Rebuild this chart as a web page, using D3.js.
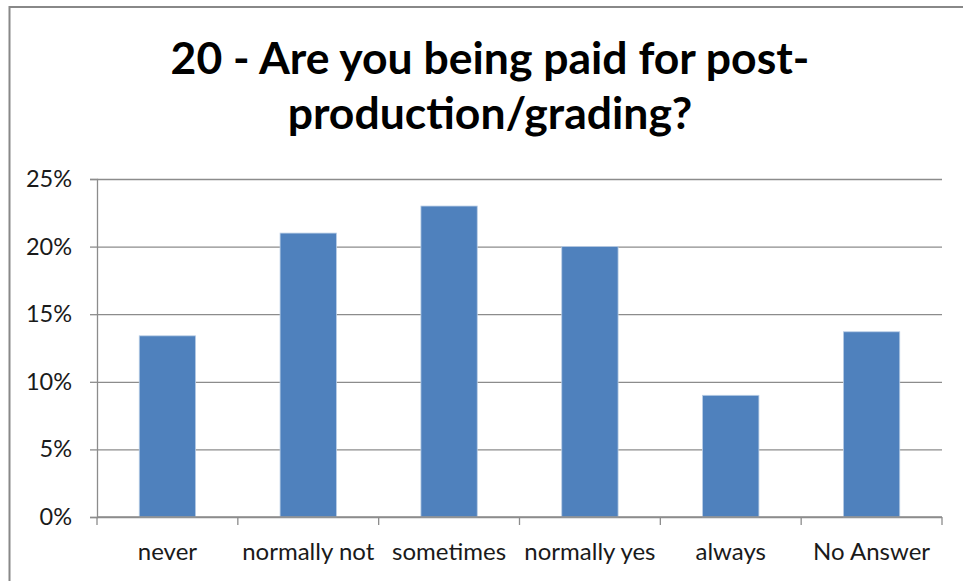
<!DOCTYPE html>
<html>
<head>
<meta charset="utf-8">
<script src="https://cdn.jsdelivr.net/npm/d3@7"></script>
<style>
  body { margin: 0; background: #fff; }
  svg { display: block; font-family: Lato, "Open Sans", sans-serif; }
  .tick text { fill: #1a1a1a; }
</style>
</head>
<body>
<div id="chart"></div>
<script>
// answers and share of respondents (%)
const categories = ["never", "normally not", "sometimes", "normally yes", "always", "No Answer"];
const values = [13.4, 21.0, 23.0, 20.0, 9.0, 13.7];
const yTicks = [0, 5, 10, 15, 20, 25];
const titleLines = ["20 - Are you being paid for post-", "production/grading?"];

const width = 963;
const height = 581;

const svg = d3.select("#chart")
  .append("svg")
  .attr("width", width)
  .attr("height", height);

// outer chart border (runs off the right and bottom edge)
svg.append("rect")
  .attr("x", 9.5)
  .attr("y", 7)
  .attr("width", 980)
  .attr("height", 600)
  .attr("fill", "#fff")
  .attr("stroke", "#888")
  .attr("stroke-width", 2);

const plot = { left: 97, right: 942, top: 179, bottom: 517 };

const xScale = d3.scaleBand()
  .domain(categories)
  .range([plot.left, plot.right])
  .paddingInner(0.6)
  .paddingOuter(0.3);

const yScale = d3.scaleLinear()
  .domain([0, 25])
  .range([plot.bottom, plot.top]);

// gridlines
svg.append("g")
  .attr("class", "gridlines")
  .attr("transform", `translate(${plot.left}, 0)`)
  .call(d3.axisLeft(yScale).tickValues(yTicks).tickFormat("").tickSize(-(plot.right - plot.left)))
  .call((g) => g.select(".domain").remove())
  .call((g) => g.selectAll("line").attr("stroke", "#8c8c8c").attr("stroke-width", 1.3));

// bars
svg.append("g")
  .selectAll("rect")
  .data(categories)
  .join("rect")
  .attr("x", (d) => xScale(d))
  .attr("y", (d, i) => yScale(values[i]))
  .attr("width", xScale.bandwidth())
  .attr("height", (d, i) => yScale(0) - yScale(values[i]))
  .attr("fill", "#4f81bd")
  .attr("stroke", "#b9cde5")
  .attr("stroke-width", 0.8);

// y axis
const yAxis = svg.append("g")
  .attr("transform", `translate(${plot.left}, 0)`)
  .call(d3.axisLeft(yScale).tickValues(yTicks).tickFormat((d) => d + "%").tickSize(7).tickPadding(18));
yAxis.selectAll("line, path").attr("stroke", "#8c8c8c").attr("stroke-width", 1.3);
yAxis.selectAll("text").attr("font-size", 23.5).attr("font-family", "Lato, sans-serif");

// x axis: ticks sit on the category boundaries
const boundaries = d3.range(categories.length + 1).map((i) => plot.left + i * (plot.right - plot.left) / categories.length);
const xAxis = svg.append("g");
xAxis.append("line")
  .attr("x1", plot.left).attr("x2", plot.right)
  .attr("y1", plot.bottom).attr("y2", plot.bottom)
  .attr("stroke", "#8c8c8c").attr("stroke-width", 1.3);
xAxis.selectAll(".xt")
  .data(boundaries)
  .join("line")
  .attr("x1", (d) => d).attr("x2", (d) => d)
  .attr("y1", plot.bottom).attr("y2", plot.bottom + 8)
  .attr("stroke", "#8c8c8c").attr("stroke-width", 1.3);
xAxis.selectAll("text")
  .data(categories)
  .join("text")
  .attr("x", (d) => xScale(d) + xScale.bandwidth() / 2)
  .attr("y", 560)
  .attr("text-anchor", "middle")
  .attr("font-size", 24)
  .attr("fill", "#1a1a1a")
  .text((d) => d);

// title
svg.append("g")
  .selectAll("text")
  .data(titleLines)
  .join("text")
  .attr("x", 490)
  .attr("y", (d, i) => 74 + i * 55)
  .attr("text-anchor", "middle")
  .attr("font-size", 44.5)
  .attr("font-weight", "bold")
  .attr("fill", "#000")
  .text((d) => d);
</script>
</body>
</html>
